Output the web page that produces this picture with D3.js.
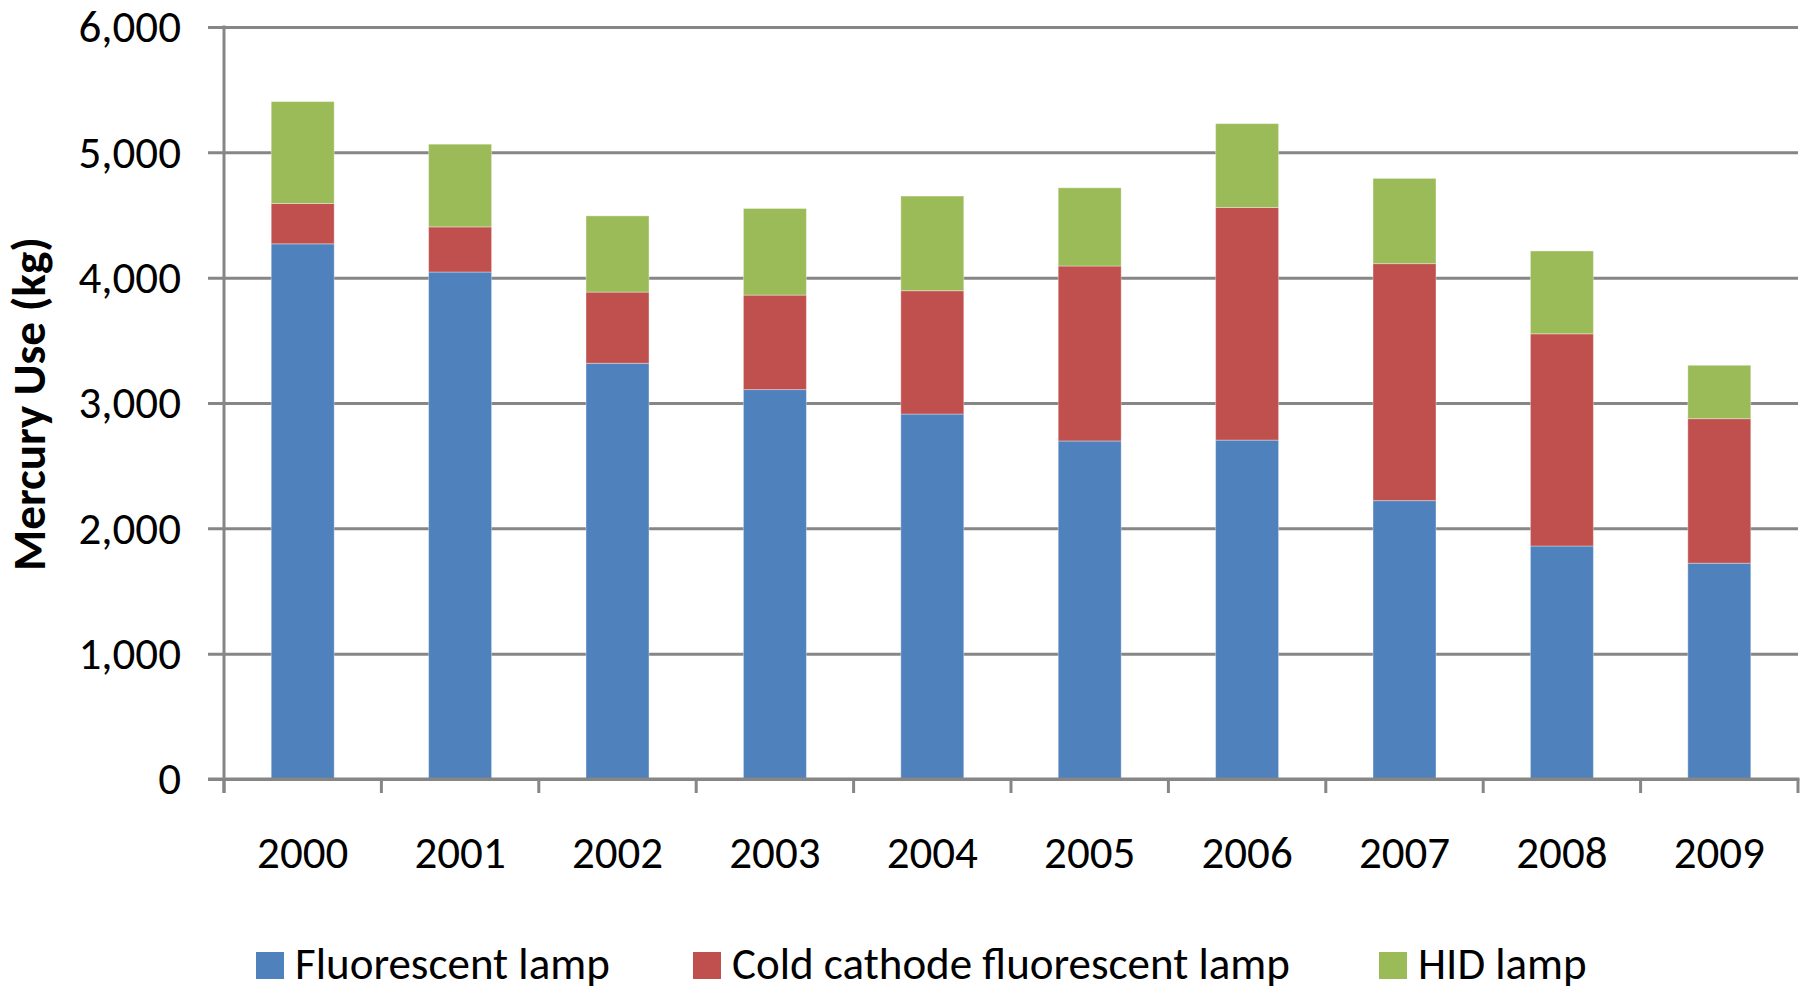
<!DOCTYPE html>
<html>
<head>
<meta charset="utf-8">
<script src="https://cdn.jsdelivr.net/npm/d3@7"></script>
<style>
  html, body { margin: 0; padding: 0; background: #fff; }
  svg { display: block; font-family: Calibri, Carlito, "Open Sans", sans-serif; }
</style>
</head>
<body>
<svg id="chart" width="1808" height="993"></svg>
<script>
const years = ["2000","2001","2002","2003","2004","2005","2006","2007","2008","2009"];
const seriesNames = ["Fluorescent lamp", "Cold cathode fluorescent lamp", "HID lamp"];
const fluorescent = [4270, 4045, 3317, 3107, 2912, 2697, 2704, 2221, 1859, 1722];
const coldCathode = [322, 360, 568, 754, 984, 1396, 1856, 1891, 1693, 1153];
const hid = [813, 660, 608, 691, 755, 624, 669, 680, 661, 426];
const yTicks = [0, 1000, 2000, 3000, 4000, 5000, 6000];
const colors = ["#4F81BD", "#C0504D", "#9BBB59"];

const table = years.map((yr, i) => ({
  year: yr,
  "Fluorescent lamp": fluorescent[i],
  "Cold cathode fluorescent lamp": coldCathode[i],
  "HID lamp": hid[i]
}));

const svg = d3.select("#chart");
const plotLeft = 224, plotRight = 1798, plotTop = 27, plotBottom = 779;
const gridColor = "#868686";
const fontFam = "Calibri, Carlito, 'Open Sans', sans-serif";
const fs = 45;

const x = d3.scaleBand().domain(years).range([plotLeft, plotRight]).paddingInner(0.6).paddingOuter(0.3);
const y = d3.scaleLinear().domain([0, 6000]).range([plotBottom, plotTop]);

// gridlines (with left tick extension)
const yAxis = d3.axisLeft(y).tickValues(yTicks).tickSize(-(plotRight - plotLeft)).tickFormat(d3.format(","));
const gy = svg.append("g").attr("transform", `translate(${plotLeft},0)`).call(yAxis);
gy.select(".domain").remove();
gy.selectAll(".tick line").attr("stroke", gridColor).attr("stroke-width", 3).attr("x1", -16);
gy.selectAll(".tick text")
  .attr("x", -43).attr("dy", "0.33em")
  .attr("fill", "#000").attr("font-size", fs)
  .attr("font-family", fontFam);

// stacked bars
const stack = d3.stack().keys(seriesNames);
const stacked = stack(table);
svg.append("g").selectAll("g").data(stacked).join("g")
  .attr("fill", (d, i) => colors[i])
  .selectAll("rect").data(d => d).join("rect")
  .attr("x", d => x(d.data.year))
  .attr("width", x.bandwidth())
  .attr("y", d => y(d[1]))
  .attr("height", d => y(d[0]) - y(d[1]))
  .attr("stroke", "rgba(255,255,255,0.35)")
  .attr("stroke-width", 1);

// y axis line
svg.append("line").attr("x1", plotLeft).attr("x2", plotLeft).attr("y1", plotTop - 1.5).attr("y2", plotBottom + 14)
  .attr("stroke", gridColor).attr("stroke-width", 3);

// x axis
const boundaries = d3.range(years.length + 1).map(i => plotLeft + i * x.step());
svg.append("line").attr("x1", plotLeft - 16).attr("x2", plotRight + 1.5).attr("y1", plotBottom).attr("y2", plotBottom)
  .attr("stroke", gridColor).attr("stroke-width", 3);
svg.append("g").selectAll("line").data(boundaries).join("line")
  .attr("x1", d => d).attr("x2", d => d)
  .attr("y1", plotBottom).attr("y2", plotBottom + 14)
  .attr("stroke", gridColor).attr("stroke-width", 3);

// x labels
const xAxis = d3.axisBottom(x).tickSize(0);
const gx = svg.append("g").attr("transform", `translate(0,${plotBottom})`).call(xAxis);
gx.select(".domain").remove();
gx.selectAll(".tick text")
  .attr("y", 89).attr("dy", 0)
  .attr("fill", "#000").attr("font-size", fs)
  .attr("font-family", fontFam);

// y title (fit to reference length)
const title = svg.append("text")
  .attr("text-anchor", "middle")
  .attr("font-weight", "bold")
  .attr("font-size", 36)
  .attr("font-family", fontFam)
  .attr("fill", "#000")
  .text("Mercury Use (kg)");
const tl = title.node().getComputedTextLength();
const tfs = 36 * 334 / tl;
title.attr("font-size", tfs).attr("transform", `translate(${29 + tfs * 0.33},404) rotate(-90)`);

// legend
const legendX = [256, 693, 1379];
const lg = svg.append("g").selectAll("g").data(seriesNames).join("g")
  .attr("transform", (d, i) => `translate(${legendX[i]},952)`);
lg.append("rect").attr("width", 28).attr("height", 27).attr("fill", (d, i) => colors[i]);
lg.append("text").attr("x", 39).attr("y", 27).attr("font-size", fs).attr("font-family", fontFam)
  .attr("fill", "#000").text(d => d);
</script>
</body>
</html>
